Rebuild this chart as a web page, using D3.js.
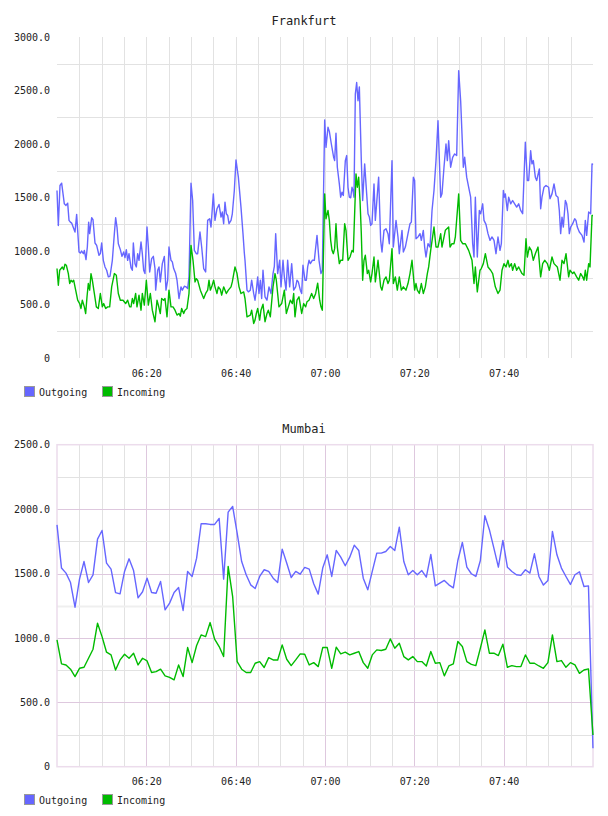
<!DOCTYPE html>
<html>
<head>
<meta charset="utf-8">
<script src="https://cdn.jsdelivr.net/npm/d3@7"></script>
<style>
    body { margin: 0; background: #fff; }
    svg { display: block; }
    text { font-family: "DejaVu Sans Mono", monospace; fill: #222; }
</style>
</head>
<body>
<svg id="chart" width="608" height="816"></svg>
<script>
// Traffic per site, two panels sharing the same time range.

const seriesNames = ["Outgoing", "Incoming"];
const timeRange = ["06:00", "08:00"];
const timeLabels = ["06:20", "06:40", "07:00", "07:20", "07:40"];

const frankfurtTicksY = [0, 500, 1000, 1500, 2000, 2500, 3000];
const mumbaiTicksY = [0, 500, 1000, 1500, 2000, 2500];

// Frankfurt samples: [minutes after 06:00, value]
const frankfurtOutgoing = [
    [0,1565],[0.3,1239],[0.67,1612],[1.04,1634],[1.64,1441],[2.01,1426],[2.39,1447],[2.69,1286],[2.99,1270],[3.28,1261],
    [4.03,1177],[4.4,1342],[4.93,991],[5.22,981],[5.52,1000],[5.9,975],[6.12,1006],[6.49,919],[6.79,1037],[7.09,1270],
    [7.31,1162],[7.76,1311],[8.06,1292],[8.51,1075],[8.88,1053],[9.4,960],[9.7,975],[10,1075],[10.37,913],[10.75,851],
    [11.12,820],[11.49,758],[11.87,764],[12.39,913],[12.84,1162],[13.13,1311],[13.43,1224],[13.73,1068],[14.18,1013],[14.55,950],
    [14.93,991],[15.22,938],[15.52,1013],[15.82,913],[16.12,975],[16.57,845],[16.87,820],[17.09,1075],[17.46,882],[17.76,851],
    [18.06,975],[18.36,913],[18.81,1084],[19.1,975],[19.4,820],[19.7,789],[20.15,1224],[20.45,1037],[20.75,804],[21.19,929],
    [21.57,950],[21.94,836],[22.09,634],[22.54,820],[22.84,851],[23.13,711],[23.58,882],[24.03,950],[24.4,634],[24.78,727],
    [25.07,1037],[25.52,913],[25.82,898],[26.12,836],[26.57,789],[26.87,727],[27.31,556],[27.76,665],[28.06,634],[28.51,671],
    [28.88,665],[29.25,649],[29.55,758],[30,1634],[30.37,1472],[30.75,1006],[31.19,975],[31.49,975],[32.01,1177],[32.39,1037],
    [32.84,836],[33.28,804],[33.73,1286],[34.18,1301],[34.48,1224],[35,1534],[35.37,1286],[35.82,1395],[36.27,1435],[36.72,1317],
    [37.01,1364],[37.31,1255],[37.61,1457],[37.91,1348],[38.21,1332],[38.51,1255],[38.96,1286],[39.25,1348],[39.7,1565],[40.07,1851],
    [40.6,1690],[41.19,1410],[41.64,1162],[41.94,981],[42.09,913],[42.54,634],[42.84,618],[43.28,634],[43.58,727],[44.03,603],
    [44.33,540],[44.63,634],[44.93,758],[45.22,603],[45.52,727],[45.82,556],[46.12,820],[46.57,572],[47.01,540],[47.46,665],
    [47.91,603],[48.36,789],[48.66,857],[48.96,1162],[49.4,789],[49.85,913],[50.15,665],[50.6,913],[50.9,758],[51.27,634],
    [51.64,913],[52.09,665],[52.54,882],[52.99,634],[53.43,665],[53.73,727],[54.03,711],[54.48,634],[54.78,603],[55.07,867],
    [55.52,727],[55.82,727],[56.12,851],[56.42,913],[56.72,882],[57.16,913],[57.61,913],[58.21,1146],[58.66,913],[59.1,789],
    [59.4,820],[59.93,2224],[60.22,1969],[60.67,2156],[60.97,2118],[61.42,2000],[61.94,1876],[62.16,1845],[62.46,2100],[62.76,1783],
    [63.21,1627],[63.51,1503],[63.81,1550],[64.1,1519],[64.55,1845],[64.85,1892],[65.15,1596],[65.45,1503],[65.75,1497],[66.04,1596],
    [66.27,1565],[66.49,1503],[66.79,2466],[67.09,2575],[67.39,2404],[67.69,2534],[68.13,1845],[68.43,1472],[68.88,1814],[69.33,1534],
    [69.63,1348],[69.93,1317],[70.22,1239],[70.52,1255],[70.97,1627],[71.27,1286],[72.01,1690],[72.46,1100],[72.76,991],[73.21,1193],
    [73.66,1208],[74.1,1162],[74.4,1068],[75,1845],[75.3,1037],[75.9,1286],[76.34,1131],[76.64,975],[77.24,1193],[77.54,991],
    [77.99,1037],[78.58,1162],[79.03,1255],[79.33,1270],[79.78,1690],[80.07,1659],[80.37,1115],[80.82,1131],[81.27,1162],[81.57,1100],
    [82.01,1193],[82.31,1037],[82.61,944],[83.06,1068],[83.51,1037],[83.96,1379],[84.4,1565],[84.85,1845],[85.3,2218],[85.9,1503],
    [86.19,1534],[86.64,1783],[87.09,2000],[87.39,1845],[87.69,2031],[88.13,1783],[88.58,1876],[89.03,1907],[89.48,1892],[89.93,2684],
    [90.37,2404],[90.97,1783],[91.27,1876],[91.72,1690],[92.16,1596],[92.61,1503],[93.06,1068],[93.36,944],[93.66,1503],[94.1,944],
    [94.55,1379],[94.85,1348],[95.3,1441],[95.6,1286],[96.04,1249],[96.49,1162],[96.94,1100],[97.39,1131],[97.84,1100],[98.28,975],
    [98.73,1131],[99.18,1006],[99.48,1068],[99.93,1565],[100.15,1503],[100.37,1534],[100.82,1379],[101.12,1503],[101.57,1441],[102.01,1472],
    [102.46,1441],[102.91,1410],[103.36,1441],[103.81,1379],[104.25,1348],[104.85,2016],[105.3,1659],[105.6,1659],[106.04,1938],[106.34,1814],
    [106.64,1845],[107.09,1690],[107.39,1659],[107.99,1767],[108.28,1395],[108.58,1503],[109.03,1596],[109.48,1612],[110.07,1596],[110.37,1488],
    [110.82,1534],[111.27,1627],[111.72,1519],[112.16,1503],[112.46,1379],[112.76,1162],[113.06,1317],[113.36,1224],[113.81,1472],[114.1,1441],
    [114.4,1348],[114.7,1162],[115,1224],[115.45,1255],[115.9,1301],[116.19,1286],[116.49,1224],[116.94,1177],[117.54,1146],[117.99,1084],
    [118.28,1286],[118.58,1146],[119.03,1364],[119.48,1348],[119.78,1814],[120,1808]
];

const frankfurtIncoming = [
    [0,836],[0.3,680],[0.6,820],[1.19,851],[1.49,826],[1.79,876],[2.09,867],[2.54,789],[2.84,696],[3.13,727],
    [3.43,711],[3.73,727],[4.18,634],[4.63,540],[5.07,509],[5.37,463],[5.67,540],[6.12,478],[6.42,416],[6.72,572],
    [7.01,696],[7.31,634],[7.61,789],[7.91,727],[8.36,603],[8.81,478],[9.25,463],[9.7,603],[10.15,478],[10.45,509],
    [10.9,463],[11.34,478],[11.79,478],[12.24,665],[12.84,789],[13.28,773],[13.73,603],[14.18,540],[14.78,540],[15.37,509],
    [15.82,540],[16.27,478],[16.57,478],[16.87,556],[17.16,509],[17.61,603],[17.91,478],[18.36,587],[18.81,447],[19.1,603],
    [19.55,494],[20,727],[20.45,494],[20.9,603],[21.34,447],[21.94,339],[22.39,540],[22.69,494],[23.13,416],[23.43,556],
    [23.88,540],[24.18,556],[24.63,385],[25.07,634],[25.52,478],[25.97,478],[26.42,447],[26.87,401],[27.31,416],[27.61,391],
    [27.91,463],[28.36,416],[28.66,447],[29.1,463],[29.55,603],[30,1053],[30.45,913],[30.9,711],[31.19,742],[31.49,727],
    [32.09,634],[32.84,556],[33.28,603],[33.73,634],[34.03,727],[34.33,634],[34.63,665],[35.07,727],[35.37,665],[35.82,603],
    [36.12,665],[36.57,640],[36.87,587],[37.31,665],[37.91,603],[38.36,634],[38.96,665],[39.25,711],[39.85,851],[40.3,789],
    [40.75,665],[41.19,603],[41.79,618],[42.09,556],[42.54,385],[43.28,401],[43.58,447],[44.03,323],[44.33,354],[44.63,416],
    [44.93,463],[45.37,354],[45.67,447],[46.12,503],[46.57,339],[47.01,416],[47.31,447],[47.76,385],[48.36,665],[48.81,789],
    [49.1,727],[49.4,603],[49.7,478],[50.3,509],[50.9,634],[51.34,416],[51.79,478],[52.24,540],[52.69,509],[52.99,603],
    [53.28,385],[53.73,540],[54.18,572],[54.78,416],[55.22,509],[55.67,478],[55.97,525],[56.42,540],[57.01,603],[57.46,556],
    [57.91,603],[58.36,699],[58.81,540],[59.1,478],[59.4,447],[59.93,1534],[60.22,1301],[60.67,1379],[60.97,1286],[61.27,1100],
    [61.57,1006],[61.87,975],[62.16,1022],[62.46,1255],[62.76,1037],[63.21,882],[63.51,913],[63.96,913],[64.4,1255],[64.7,1193],
    [65.15,913],[65.6,944],[66.04,1006],[66.34,991],[66.94,1721],[67.24,1596],[67.54,1690],[67.84,1472],[68.13,1162],[68.43,727],
    [68.73,913],[69.03,960],[69.48,789],[69.78,820],[70.22,711],[70.52,789],[70.97,944],[71.27,711],[71.87,913],[72.46,665],
    [72.76,634],[73.21,727],[73.66,758],[74.1,696],[74.4,727],[75,1022],[75.3,696],[75.75,758],[76.19,634],[76.64,758],
    [77.09,634],[77.54,665],[78.13,634],[78.58,696],[79.03,789],[79.48,913],[80.07,634],[80.37,696],[80.67,634],[81.12,603],
    [81.57,696],[82.01,603],[82.46,665],[82.91,789],[83.21,851],[83.66,1006],[84.4,1224],[84.85,1037],[85.3,1037],[85.9,1162],
    [86.19,1037],[86.94,1193],[87.69,1224],[87.99,1037],[88.43,1068],[88.88,1068],[89.18,1131],[89.93,1534],[90.37,1100],[90.82,1068],
    [91.42,1068],[92.16,1006],[92.91,913],[93.36,696],[93.66,851],[94.1,618],[94.7,820],[94.99,836],[95.45,882],[95.9,975],
    [96.49,851],[97.09,820],[97.54,789],[98.13,665],[98.73,603],[99.18,634],[99.63,820],[100.07,882],[100.52,851],[100.97,913],
    [101.27,851],[101.72,882],[102.01,820],[102.46,882],[102.91,820],[103.36,851],[104.1,789],[104.55,773],[105,1115],[105.3,944],
    [105.75,1037],[106.19,1006],[106.64,913],[107.09,975],[107.69,1037],[108.28,758],[108.73,882],[109.18,913],[109.78,882],[110.22,820],
    [110.82,944],[111.27,882],[112.01,851],[112.61,727],[113.06,913],[113.51,882],[113.96,975],[114.55,758],[114.85,820],[115.45,789],
    [115.75,804],[116.34,758],[116.79,727],[117.24,789],[117.69,758],[117.99,727],[118.28,820],[118.58,727],[119.03,882],[119.33,851],
    [119.78,1332],[120,1332]
];

// Mumbai samples, one every mumbaiStepSeconds from 06:00
const mumbaiStepSeconds = 60.5;
const mumbaiOutgoing = [
    1878,1542,1503,1430,1238,1456,1593,1430,1490,1767,1834,1581,1534,1352,1342,1516,1614,1523,1311,1358,
    1464,1352,1347,1438,1218,1270,1352,1391,1213,1516,1477,1619,1886,1886,1881,1881,1928,1456,1977,2021,
    1814,1593,1490,1412,1384,1477,1529,1516,1464,1430,1689,1581,1469,1516,1495,1547,1534,1420,1340,1542,
    1645,1477,1679,1627,1560,1627,1720,1679,1464,1373,1516,1658,1658,1671,1710,1679,1860,1593,1490,1523,
    1490,1523,1472,1648,1404,1425,1446,1412,1389,1601,1741,1549,1498,1477,1601,1948,1840,1697,1549,1757,
    1549,1516,1490,1485,1529,1503,1653,1477,1410,1446,1827,1645,1542,1477,1415,1490,1513,1399,1404,143
];
const mumbaiIncoming = [
    985,798,790,757,700,764,772,842,912,1114,1010,889,868,751,829,873,842,881,790,842,
    821,731,738,757,705,694,674,790,700,925,808,941,1023,1010,1119,990,933,855,1555,1321,
    816,757,731,731,803,816,770,847,829,829,946,834,785,829,876,873,790,808,777,925,
    925,764,928,876,889,868,881,894,808,764,868,907,902,912,992,920,959,855,829,855,
    816,816,782,894,803,808,705,782,798,972,933,816,795,785,920,1062,881,881,863,951,
    772,785,777,777,868,803,803,782,764,808,1023,816,824,772,808,790,725,751,759,246
];

// Styles
const lineColors = ["#6666ff", "#00bb00"];
const gridGray = "#e2e2e2";
const gridPink = "#dec8de";
const borderPink = "#ecdcec";

const parseTime = d3.timeParse("%H:%M");
const startTime = parseTime(timeRange[0]);
const endTime = parseTime(timeRange[1]);
const atMinute = m => new Date(+startTime + m * 60000);
const formatY = d => d === 0 ? "0" : d.toFixed(1);

const svg = d3.select("#chart");

const x = d3.scaleTime()
    .domain([startTime, endTime])
    .range([57, 593]);

const fiveMinuteTicks = d3.timeMinute.every(5).range(new Date(+startTime + 1), endTime);
const labelTicks = timeLabels.map(parseTime);

/**
 * Draws one panel: title, grid, axis labels, both lines and legend.
 */
function drawPanel(opts) {
    const g = svg.append("g");
    const yMax = opts.yTicks[opts.yTicks.length - 1];
    const y = d3.scaleLinear().domain([0, yMax]).range([opts.bottom, opts.top]);
    const midTicks = opts.yTicks.slice(0, -1).map((t, i) => (t + opts.yTicks[i + 1]) / 2);

    g.append("text")
        .attr("x", 304)
        .attr("y", opts.titleY)
        .attr("text-anchor", "middle")
        .attr("font-size", "12px")
        .text(opts.title);

    const grid = g.append("g");

    // Vertical lines every five minutes
    grid.selectAll("line.v")
        .data(fiveMinuteTicks)
        .enter()
        .append("line")
        .attr("x1", d => Math.round(x(d)) + 0.5)
        .attr("x2", d => Math.round(x(d)) + 0.5)
        .attr("y1", opts.top)
        .attr("y2", opts.bottom)
        .attr("stroke", d => opts.pink && d.getMinutes() % 20 === 0 ? gridPink : gridGray)
        .attr("stroke-width", 1);

    // Horizontal lines half way between labels
    grid.selectAll("line.h")
        .data(midTicks)
        .enter()
        .append("line")
        .attr("x1", 57)
        .attr("x2", 593)
        .attr("y1", d => Math.round(y(d)) + 0.5)
        .attr("y2", d => Math.round(y(d)) + 0.5)
        .attr("stroke", d => opts.pink && d === 1250 ? "#efefef" : gridGray)
        .attr("stroke-width", d => opts.pink && d === 1250 ? 2 : 1);

    if (opts.pink) {
        grid.selectAll("line.hp")
            .data(opts.yTicks.slice(1, -1))
            .enter()
            .append("line")
            .attr("x1", 57)
            .attr("x2", 593)
            .attr("y1", d => Math.round(y(d)) + 0.5)
            .attr("y2", d => Math.round(y(d)) + 0.5)
            .attr("stroke", gridPink);

        grid.append("rect")
            .attr("x", 57)
            .attr("y", opts.top)
            .attr("width", 536)
            .attr("height", opts.bottom - opts.top)
            .attr("fill", "none")
            .attr("stroke", borderPink)
            .attr("stroke-width", 1.5);
    }

    const yAxis = g.append("g")
        .attr("transform", "translate(57,0)")
        .call(d3.axisLeft(y).tickValues(opts.yTicks).tickFormat(formatY).tickSize(0).tickPadding(7));
    yAxis.select(".domain").remove();
    yAxis.selectAll("text").attr("font-family", null).attr("font-size", "10px").style("fill", "#222");

    const xAxis = g.append("g")
        .attr("transform", `translate(0,${opts.bottom})`)
        .call(d3.axisBottom(x).tickValues(labelTicks).tickFormat(d3.timeFormat("%H:%M")).tickSize(0).tickPadding(opts.xPad));
    xAxis.select(".domain").remove();
    xAxis.selectAll("text").attr("font-family", null).attr("font-size", "10px").style("fill", "#222");

    const line = d3.line()
        .x(d => x(d.t))
        .y(d => y(d.v));

    opts.series.forEach((s, i) => {
        g.append("path")
            .datum(s)
            .attr("fill", "none")
            .attr("stroke", lineColors[i])
            .attr("stroke-width", 1.4)
            .attr("stroke-linejoin", "round")
            .attr("d", line);
    });

    // Legend
    const legendX = [24.5, 102.5];
    const legend = g.selectAll("g.legend")
        .data(seriesNames)
        .enter()
        .append("g")
        .attr("transform", (d, i) => `translate(${legendX[i]},${opts.legendY})`);

    legend.append("rect")
        .attr("width", 10)
        .attr("height", 10)
        .attr("fill", (d, i) => lineColors[i])
        .attr("stroke", "#999");

    legend.append("text")
        .attr("x", 14.5)
        .attr("y", 9)
        .attr("font-size", "10px")
        .text(d => d);
}

const toPoints = pairs => pairs.map(([m, v]) => ({ t: atMinute(m), v }));
const mumbaiPoints = values => values.map((v, i) => ({ t: atMinute(i * mumbaiStepSeconds / 60), v }));

drawPanel({
    title: "Frankfurt",
    titleY: 25,
    top: 37,
    bottom: 358,
    yTicks: frankfurtTicksY,
    xPad: 12,
    legendY: 386.5,
    pink: false,
    series: [toPoints(frankfurtOutgoing), toPoints(frankfurtIncoming)]
});

drawPanel({
    title: "Mumbai",
    titleY: 433,
    top: 444.7,
    bottom: 766.7,
    yTicks: mumbaiTicksY,
    xPad: 11,
    legendY: 794.5,
    pink: true,
    series: [mumbaiPoints(mumbaiOutgoing), mumbaiPoints(mumbaiIncoming)]
});
</script>
</body>
</html>
